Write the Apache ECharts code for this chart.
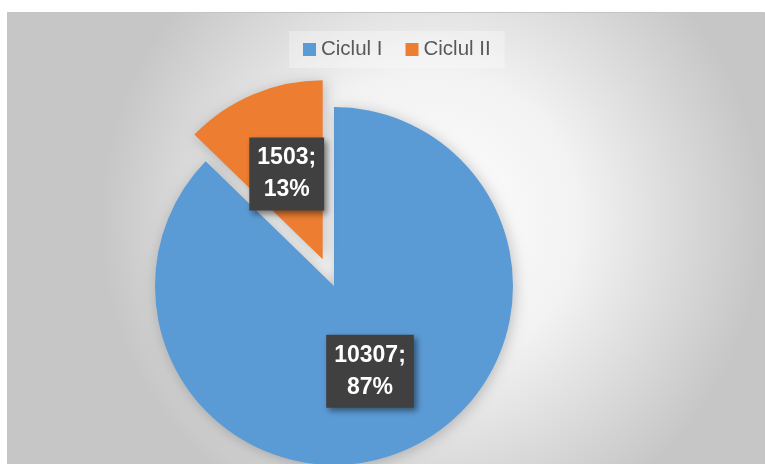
<!DOCTYPE html>
<html>
<head>
<meta charset="utf-8">
<script src="https://cdn.jsdelivr.net/npm/echarts@6/dist/echarts.min.js"></script>
<style>
  html, body { margin: 0; padding: 0; background: #fff; }
  #pie { width: 765px; height: 464px; }
</style>
</head>
<body>
<div id="pie"></div>
<script>
var categories = ['Ciclul I', 'Ciclul II']
var values = [10307, 1503]
var colors = ['#5b9bd5', '#ed7d31']

var data = []
for (var i = 0; i < categories.length; i++) {
  data.push({
    name: categories[i],
    value: values[i],
    selected: i === 1,
    itemStyle: { color: colors[i] },
    select: { itemStyle: { color: colors[i] } },
  })
}

var myChart = echarts.init(document.getElementById('pie'))
myChart.setOption({
  animation: false,
  graphic: [
    {
      type: 'rect',
      z: -10,
      shape: { x: 7.5, y: 12.5, width: 757, height: 460 },
      style: {
        fill: {
          type: 'radial',
          x: 0.56,
          y: 0.45,
          r: 0.72,
          colorStops: [
            { offset: 0, color: '#ffffff' },
            { offset: 0.45, color: '#f2f2f2' },
            { offset: 1, color: '#c6c6c6' },
          ],
        },
        stroke: '#c4c4c4',
        lineWidth: 1,
      },
    },
  ],
  legend: {
    data: categories,
    left: 289,
    top: 31,
    padding: [8, 14],
    backgroundColor: 'rgba(255,255,255,0.3)',
    itemWidth: 13,
    itemHeight: 13,
    itemGap: 23,
    icon: 'rect',
    textStyle: {
      fontFamily: 'Liberation Sans',
      fontSize: 20.5,
      color: '#595959',
    },
  },
  series: [
    {
      type: 'pie',
      center: [334, 286],
      radius: 179,
      startAngle: 90,
      selectedMode: 'single',
      selectedOffset: 29,
      silent: true,
      data: data,
      itemStyle: {
        shadowBlur: 14,
        shadowColor: 'rgba(0,0,0,0.22)',
        shadowOffsetX: 2,
        shadowOffsetY: 2,
      },
      labelLine: { show: false },
      label: {
        show: true,
        position: 'inside',
        formatter: function (p) {
          return p.value + ';\n' + Math.round(p.percent) + '%'
        },
        color: '#ffffff',
        fontFamily: 'Liberation Sans',
        fontWeight: 'bold',
        fontSize: 23,
        lineHeight: 32,
        padding: [5, 8, 4, 8],
        backgroundColor: '#404040',
        shadowBlur: 6,
        shadowOffsetX: 3,
        shadowOffsetY: 3,
        shadowColor: 'rgba(0,0,0,0.45)',
      },
    },
  ],
})
</script>
</body>
</html>
